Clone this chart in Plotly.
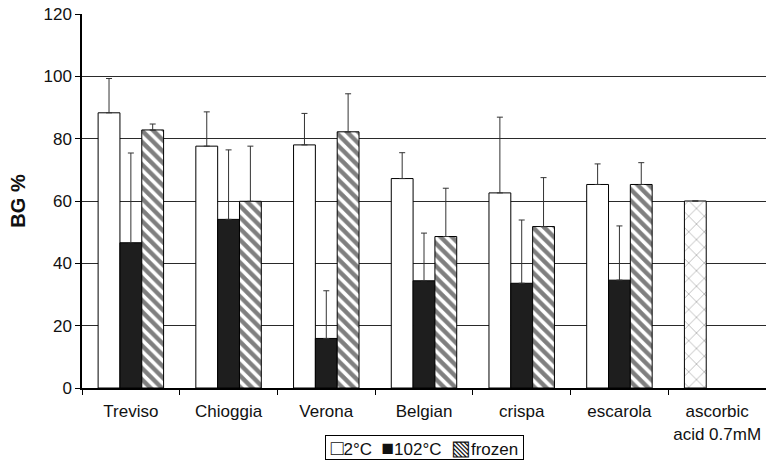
import plotly.graph_objects as go

categories = ["Treviso", "Chioggia", "Verona", "Belgian", "crispa", "escarola", "ascorbic<br>acid 0.7mM"]
series_names = ["2°C", "102°C", "frozen"]
val_2c = [88.3, 77.6, 78.0, 67.2, 62.6, 65.3, 60.0]
err_2c = [11.0, 11.0, 10.1, 8.3, 24.3, 6.6, 0.0]
val_102c = [46.6, 54.1, 15.9, 34.4, 33.6, 34.6, None]
err_102c = [28.8, 22.3, 15.3, 15.3, 20.3, 17.4, 0.0]
val_frozen = [82.8, 59.9, 82.2, 48.6, 51.8, 65.3, None]
err_frozen = [1.9, 17.7, 12.2, 15.5, 15.7, 7.0, 0.0]
y_ticks = [0, 20, 40, 60, 80, 100, 120]
legend_symbols = ["□", "■", "▧"]

FONT = "Liberation Sans, Arial, sans-serif"
TXT = "#111111"

def errbar(arr):
    return dict(type="data", symmetric=False, array=arr, arrayminus=[0] * len(arr),
                color="#333333", thickness=1, width=3)

fig = go.Figure()

# 2°C series; last point (ascorbic acid) drawn with a light crosshatch
shapes_2c = [""] * 6 + ["x"]
fig.add_trace(go.Bar(
    x=categories, y=val_2c, name=series_names[0],
    marker=dict(color="white", line=dict(color="black", width=1),
                pattern=dict(shape=shapes_2c, fgcolor="#6e6e6e", bgcolor="white",
                             size=11, solidity=0.15, fillmode="overlay")),
    error_y=errbar(err_2c),
))
fig.add_trace(go.Bar(
    x=categories, y=val_102c, name=series_names[1],
    marker=dict(color="#1e1e1e", line=dict(color="black", width=1)),
    error_y=errbar(err_102c),
))
fig.add_trace(go.Bar(
    x=categories, y=val_frozen, name=series_names[2],
    marker=dict(color="white", line=dict(color="black", width=1),
                pattern=dict(shape="\\", fgcolor="black", bgcolor="white",
                             size=8, solidity=0.55, fillmode="overlay")),
    error_y=errbar(err_frozen),
))

legend_text = "\u00a0".join('<span style="font-size:21px">' + s + '</span>' + n
                            for s, n in zip(legend_symbols, series_names))

fig.update_layout(
    width=766, height=462,
    margin=dict(l=82, r=0, t=14, b=74),
    paper_bgcolor="white", plot_bgcolor="white",
    barmode="group", bargap=0.33, bargroupgap=0,
    font=dict(family=FONT, size=17, color=TXT),
    showlegend=False,
    annotations=[dict(
        text="\u00a0" + legend_text.replace("\u00a0", "\u00a0\u00a0") + "\u00a0",
        xref="paper", yref="paper", x=0.5, y=-0.125,
        xanchor="center", yanchor="top", showarrow=False,
        font=dict(family=FONT, size=17, color=TXT),
        bordercolor="black", borderwidth=1, borderpad=0, bgcolor="white",
    )],
    xaxis=dict(type="category", tickson="boundaries", ticks="outside", ticklen=5,
               tickcolor="black", showline=True, linecolor="black", linewidth=2,
               showgrid=False, tickfont=dict(family=FONT, size=17, color=TXT),
               ticklabelstandoff=7, fixedrange=True),
    yaxis=dict(range=[0, 120], tickvals=y_ticks, ticks="outside", ticklen=5,
               tickcolor="black", showline=True, linecolor="black", linewidth=1.5,
               showgrid=True, gridcolor="#2a2a2a", gridwidth=1,
               zeroline=False,
               tickfont=dict(family=FONT, size=17, color=TXT),
               title=dict(text="<b>BG %</b>", font=dict(family=FONT, size=20, color=TXT),
                          standoff=12)),
)

fig.write_html("out.html")
